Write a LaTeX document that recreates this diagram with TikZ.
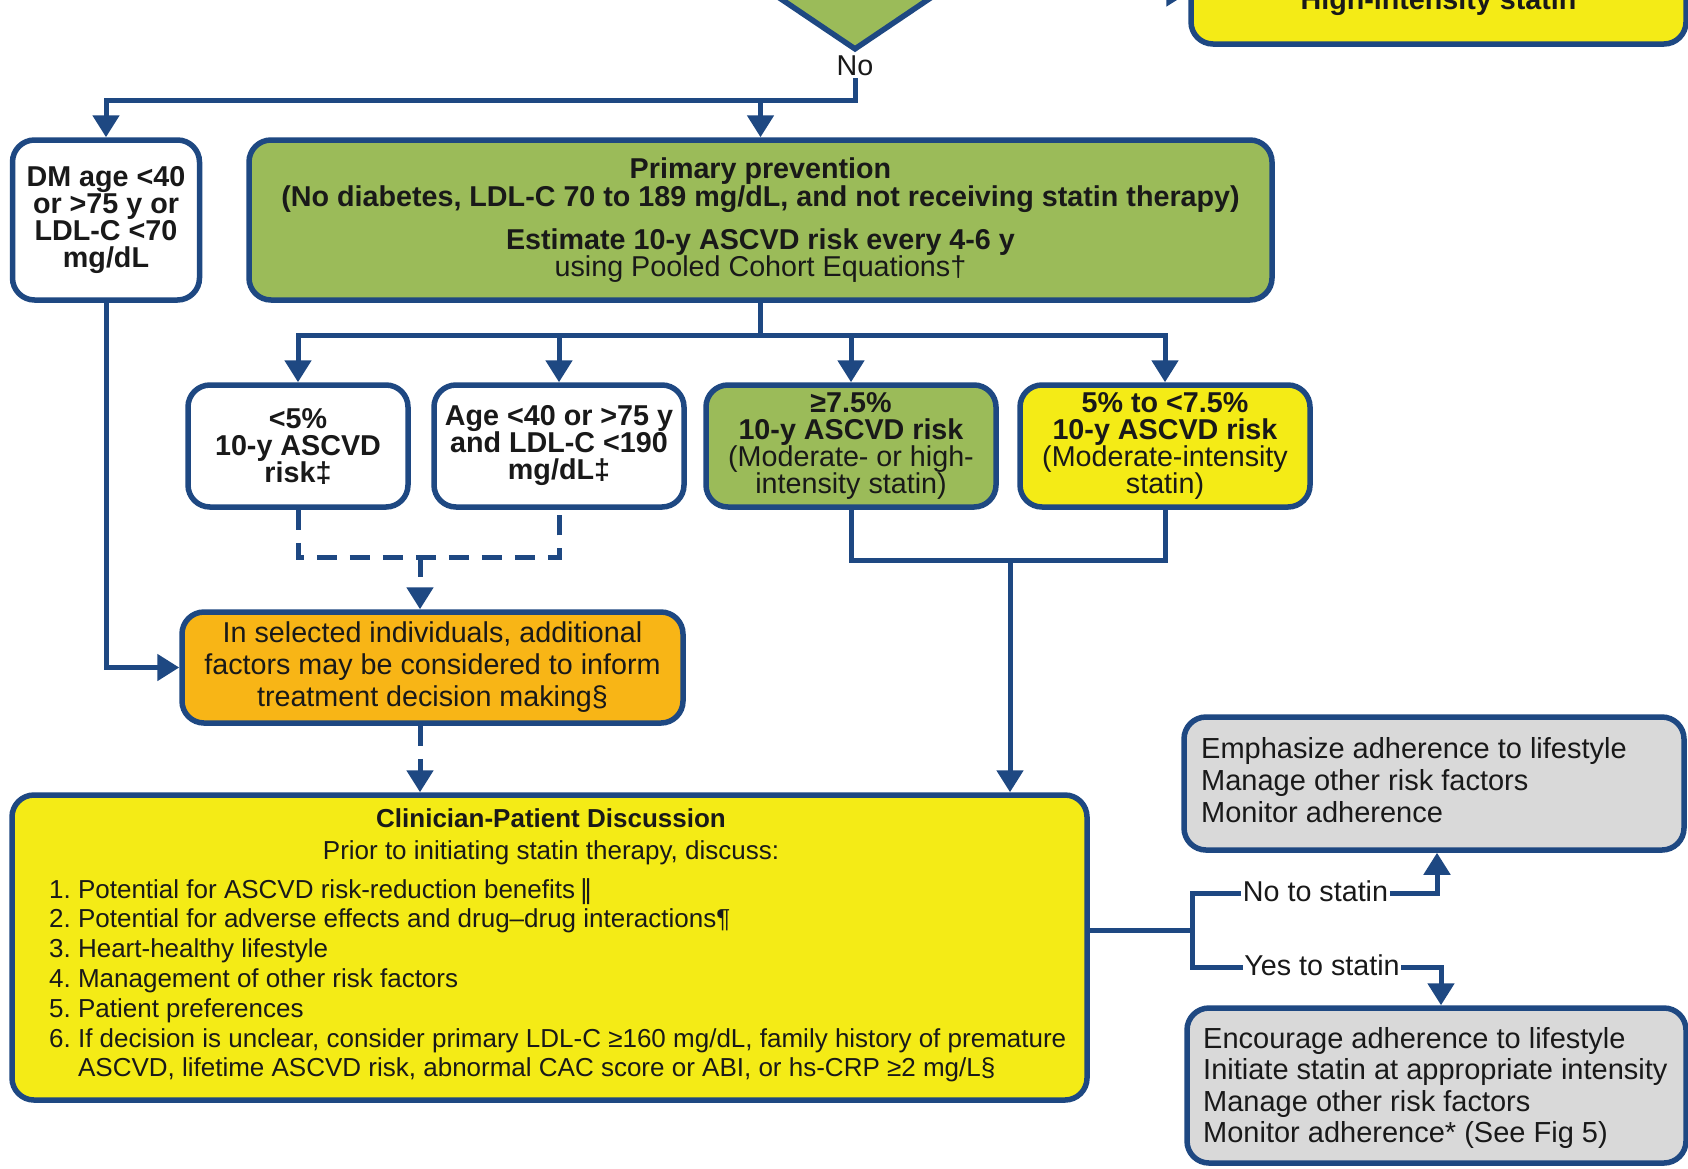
\documentclass[tikz,border=0pt]{standalone}
\usepackage{fontspec}
\setmainfont{Liberation Sans}
\newfontfamily\djv{DejaVu Sans}
\usetikzlibrary{arrows.meta,shapes.geometric}
\definecolor{navy}{RGB}{30,72,130}
\definecolor{olivefill}{RGB}{155,187,89}
\definecolor{yelfill}{RGB}{244,235,22}
\definecolor{orgfill}{RGB}{248,181,22}
\definecolor{gryfill}{RGB}{217,217,217}
\definecolor{ink}{RGB}{25,25,25}
\begin{document}
\begin{tikzpicture}[x=1pt,y=-1pt,
 box/.style={draw=navy,line width=5.5pt,rounded corners=22pt,inner sep=0pt,align=center,text=ink},
 conn/.style={draw=navy,line width=5pt},
 arr/.style={conn,-{Triangle[length=22pt,width=26pt]}},
 dsh/.style={dash pattern=on 20pt off 13pt},
 fbb/.style={font=\fontsize{28.7}{27}\selectfont\bfseries},
 frr/.style={font=\fontsize{28.7}{27}\selectfont},
 lab/.style={inner xsep=1.5pt,inner ysep=0pt,text=ink,font=\fontsize{28.7}{28}\selectfont}
]
\useasboundingbox (0,0) rectangle (1688,1168);
\fill[white] (0,0) rectangle (1688,1168);
\clip (0,0) rectangle (1688,1168);

% ---- top ----
\node[diamond,draw=navy,fill=olivefill,line width=5.5pt,minimum width=168pt,minimum height=114pt,inner sep=0pt] (dia) at (855,-7) {};
\node[box,fill=yelfill,minimum width=495pt,minimum height=84pt,fbb] (hi) at (1438.5,2) {High-intensity statin};
\draw[arr] (dia.east) -- (dia.east -| hi.west);
\node[lab,anchor=base,inner ysep=3pt] (no) at (855,75) {No};
\coordinate (t1) at (855,100);

% ---- second row ----
\node[box,fill=white,minimum width=187pt,minimum height=160pt,fbb] (dm) at (106,220) {DM age <40\\or >75 y or\\LDL-C <70\\mg/dL};
\node[box,fill=olivefill,minimum width=1023pt,minimum height=160pt,font=\fontsize{28.7}{28}\selectfont] (prim) at (760.5,220)
 {\textbf{Primary prevention}\\\textbf{(No diabetes, LDL-C 70 to 189 mg/dL, and not receiving statin therapy)}\\[15pt]\textbf{Estimate 10-y ASCVD risk every 4-6 y}\\[-1pt]using Pooled Cohort Equations†};
\draw[arr] (no.south) -- (t1) -| (dm.north);
\draw[arr] (prim.north |- t1) -- (prim.north);

% ---- risk boxes ----
\node[box,fill=white,minimum width=220pt,minimum height=122pt,fbb] (b1) at (298,446) {<5\%\\10-y ASCVD\\risk‡};
\node[box,fill=white,minimum width=250pt,minimum height=122pt,fbb] (b2) at (559,446) {Age <40 or >75 y\\and LDL-C <190\\mg/dL‡};
\node[box,fill=olivefill,minimum width=290pt,minimum height=122pt,frr] (b3) at (851,446) {\textbf{≥7.5\%}\\\textbf{10-y ASCVD risk}\\(Moderate- or high-\\intensity statin)};
\node[box,fill=yelfill,minimum width=290pt,minimum height=122pt,frr] (b4) at (1165,446) {\textbf{5\% to <7.5\%}\\\textbf{10-y ASCVD risk}\\(Moderate-intensity\\statin)};
\coordinate (t2) at (760.5,335);
\draw[conn] (prim.south) -- (t2);
\draw[arr] (t2) -| (b1.north);
\draw[arr] (t2) -| (b4.north);
\draw[arr] (b2.north |- t2) -- (b2.north);
\draw[arr] (b3.north |- t2) -- (b3.north);

\coordinate (j1) at (420,557);
\coordinate (j2) at (1010,560);
\draw[conn,dsh] (b1.south) |- (j1) -| (b2.south);
\draw[conn] (b3.south) |- (j2) -| (b4.south);

% ---- orange ----
\node[box,fill=orgfill,minimum width=501pt,minimum height=111pt,font=\fontsize{28.7}{32}\selectfont] (org) at (432.5,667.5)
 {In selected individuals, additional\\factors may be considered to inform\\treatment decision making§};
\draw[arr,dsh] (j1) -- (j1 |- org.north);
\draw[arr] (dm.south) |- (org.west);

% ---- clinician ----
\node[box,fill=yelfill,minimum width=1075pt,minimum height=305pt] (clin) at (549.5,947.5) {};
\node[anchor=base,text=ink,inner sep=0pt,font=\fontsize{26}{30}\selectfont\bfseries] (cltitle) at (551,827) {Clinician-Patient Discussion};
\node[anchor=base,text=ink,inner sep=0pt,font=\fontsize{26}{30}\selectfont] (clsub) at (551,859) {Prior to initiating statin therapy, discuss:};
\node[anchor=base west,inner sep=0pt,text=ink,font=\fontsize{26}{29.8}\selectfont] (cllist) at (49,898) {\begin{tabular}[t]{@{}l@{\hspace{7.2pt}}l@{}}
1.&Potential for ASCVD risk-reduction benefits\,{\djv ‖}\\
2.&Potential for adverse effects and drug–drug interactions¶\\
3.&Heart-healthy lifestyle\\
4.&Management of other risk factors\\
5.&Patient preferences\\
6.&If decision is unclear, consider primary LDL-C ≥160 mg/dL, family history of premature\\
&ASCVD, lifetime ASCVD risk, abnormal CAC score or ABI, or hs-CRP ≥2 mg/L§
\end{tabular}};
\draw[arr,dsh] (org.south -| j1) -- (j1 |- clin.north);
\draw[arr] (j2) -- (j2 |- clin.north);

% ---- right side ----
\node[box,fill=gryfill,minimum width=500pt,minimum height=133pt] (g1) at (1434,783.5) {};
\node[anchor=north west,inner sep=0pt,align=left,text=ink,font=\fontsize{29}{32}\selectfont] (g1t) at (1201,737.2)
 {Emphasize adherence to lifestyle\\Manage other risk factors\\Monitor adherence};
\node[box,fill=gryfill,minimum width=499pt,minimum height=155pt] (g2) at (1436.5,1085.5) {};
\node[anchor=north west,inner sep=0pt,align=left,text=ink,font=\fontsize{29}{31.3}\selectfont] (g2t) at (1203,1027.2)
 {Encourage adherence to lifestyle\\Initiate statin at appropriate intensity\\Manage other risk factors\\Monitor adherence* (See Fig 5)};

\coordinate (br) at (1192,930);
\coordinate (nol) at (1192,893);
\coordinate (yesl) at (1192,967);
\node[lab,anchor=base] (nolab) at (1315.5,901) {No to statin};
\node[lab,anchor=base] (yeslab) at (1322,975) {Yes to statin};
\draw[conn] (clin.east |- br) -- (br);
\draw[conn] (nolab.west |- nol) -| (br) |- (yeslab.west |- yesl);
\coordinate (nup) at (1437,893);
\coordinate (ydn) at (1441,967);
\draw[arr] (nolab.east |- nup) -- (nup) -- (nup |- g1.south);
\draw[arr] (yeslab.east |- ydn) -- (ydn) -- (ydn |- g2.north);
\end{tikzpicture}
\end{document}
